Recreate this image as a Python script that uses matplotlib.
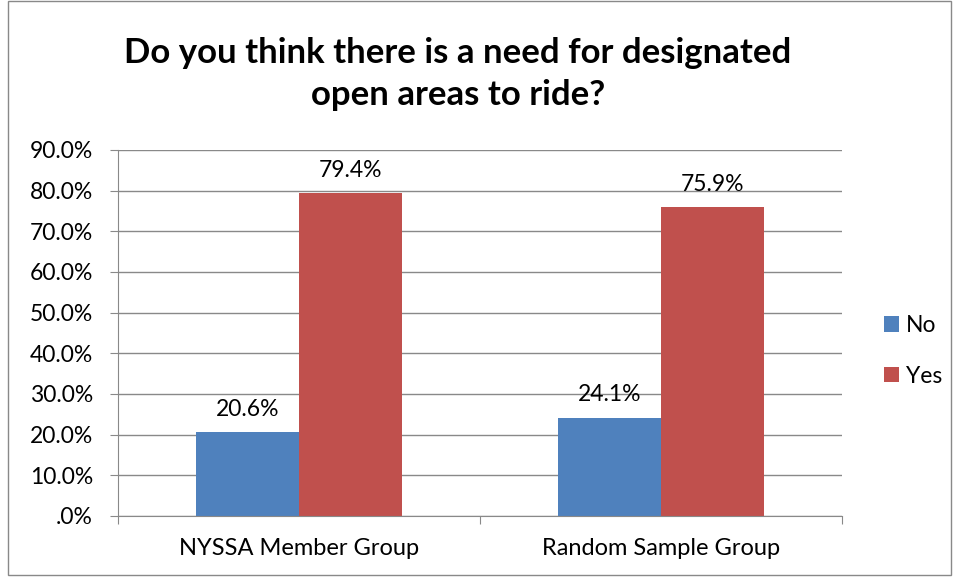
import matplotlib.pyplot as plt
from matplotlib.patches import Rectangle
import numpy as np

# data
groups = ['NYSSA Member Group', 'Random Sample Group']
series = ['No', 'Yes']
no_vals = [20.6, 24.1]
yes_vals = [79.4, 75.9]
colors = ['#4F81BD', '#C0504D']

plt.rcParams['font.family'] = ['Lato', 'DejaVu Sans']

fig = plt.figure(figsize=(9.58, 5.78), dpi=100)
ax = fig.add_axes([0.1232, 0.1073, 0.7557, 0.6332])

x = np.arange(len(groups))
w = 0.2845
b1 = ax.bar(x - w / 2, no_vals, w, color=colors[0], label=series[0])
b2 = ax.bar(x + w / 2, yes_vals, w, color=colors[1], label=series[1])

for bars, vals in [(b1, no_vals), (b2, yes_vals)]:
    for bar, v in zip(bars, vals):
        ax.annotate(f'{v:.1f}%', (bar.get_x() + bar.get_width() / 2, v),
                    xytext=(0, 9), textcoords='offset points',
                    ha='center', va='bottom', fontsize=16.5)

ax.set_xlim(-0.5, 1.5)
ax.set_ylim(0, 90)
yt = np.arange(0, 91, 10)
ax.set_yticks(yt)
ax.set_yticklabels(['.0%'] + [f'{v:.1f}%' for v in yt[1:]], fontsize=16.5)
ax.yaxis.grid(True, color='#898989', linewidth=1)
ax.set_axisbelow(True)

ax.set_xticks([-0.5, 0.5, 1.5])
ax.set_xticklabels([])
ax.set_xticks(x, minor=True)
ax.set_xticklabels(groups, minor=True, fontsize=17)
ax.tick_params(axis='x', which='minor', length=0, pad=16)
ax.tick_params(axis='x', which='major', length=6, color='#898989')
ax.tick_params(axis='y', length=6, color='#898989', pad=12)

for s in ['top', 'right']:
    ax.spines[s].set_visible(False)
ax.spines['left'].set_color('#898989')
ax.spines['bottom'].set_color('#898989')

fig.legend(handles=[b1, b2], labels=series, loc='center left',
           bbox_to_anchor=(0.901, 0.393), frameon=False, fontsize=16.5,
           handlelength=0.65, handleheight=0.65, handletextpad=0.3,
           labelspacing=1.3)

fig.text(0.478, 0.872, 'Do you think there is a need for designated\nopen areas to ride?',
         ha='center', va='center', fontsize=25, fontweight='bold', linespacing=1.38)

fig.patches.append(Rectangle((0.008, 0.005), 0.985, 0.994, transform=fig.transFigure,
                             fill=False, edgecolor='#898989', linewidth=1))

fig.savefig('out.png', dpi=100)
